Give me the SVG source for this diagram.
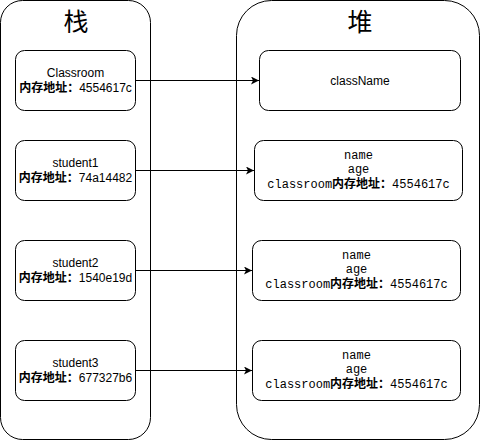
<svg xmlns="http://www.w3.org/2000/svg" width="481" height="441" viewBox="0 0 481 441">
  <style>
    .box { fill: #ffffff; stroke: #000000; stroke-width: 1; }
    .title { font-family: "Noto Sans CJK SC", sans-serif; font-size: 25px; text-anchor: middle; fill: #000; }
    .sans { font-family: "Liberation Sans", "Noto Sans CJK SC", sans-serif; font-size: 12px; text-anchor: middle; fill: #000; }
    .mono { font-family: "Liberation Mono", "Noto Sans CJK SC", monospace; font-size: 12px; text-anchor: middle; fill: #000; }
    .cjk { font-weight: bold; }
    .edge { stroke: #000000; stroke-width: 1; fill: none; marker-end: url(#arrow); }
  </style>
  <defs>
    <marker id="arrow" viewBox="0 0 10 10" refX="10" refY="5" markerWidth="8" markerHeight="8" markerUnits="userSpaceOnUse" orient="auto">
      <path d="M0,0 L10,5 L0,10 L2.5,5 Z" fill="#000"/>
    </marker>
  </defs>
  <rect width="481" height="441" fill="#ffffff"/>

  <!-- stack area -->
  <g id="stack">
    <rect class="box" x="0.5" y="0.5" width="150" height="439" rx="22" ry="22"/>
    <text class="title" x="76" y="31">栈</text>
  </g>

  <!-- heap area -->
  <g id="heap">
    <rect class="box" x="236.5" y="0.5" width="243" height="439" rx="35" ry="35"/>
    <text class="title" x="360" y="31">堆</text>
  </g>

  <!-- stack references -->
  <g id="ref-classroom">
    <rect class="box" x="15.5" y="50.5" width="120" height="60" rx="9" ry="9"/>
    <text class="sans" x="75.5" y="77">Classroom</text>
    <text class="sans" x="75.5" y="92"><tspan class="cjk">内存地址：</tspan>4554617c</text>
  </g>
  <g id="ref-student1">
    <rect class="box" x="15.5" y="140.5" width="120" height="60" rx="9" ry="9"/>
    <text class="sans" x="75.5" y="167">student1</text>
    <text class="sans" x="75.5" y="182"><tspan class="cjk">内存地址：</tspan>74a14482</text>
  </g>
  <g id="ref-student2">
    <rect class="box" x="15.5" y="240.5" width="120" height="60" rx="9" ry="9"/>
    <text class="sans" x="75.5" y="267">student2</text>
    <text class="sans" x="75.5" y="282"><tspan class="cjk">内存地址：</tspan>1540e19d</text>
  </g>
  <g id="ref-student3">
    <rect class="box" x="15.5" y="340.5" width="120" height="60" rx="9" ry="9"/>
    <text class="sans" x="75.5" y="367">student3</text>
    <text class="sans" x="75.5" y="382"><tspan class="cjk">内存地址：</tspan>677327b6</text>
  </g>

  <!-- heap objects -->
  <g id="obj-classroom">
    <rect class="box" x="259.5" y="50.5" width="201" height="60" rx="9" ry="9"/>
    <text class="sans" x="360" y="85">className</text>
  </g>
  <g id="obj-student1">
    <rect class="box" x="254.5" y="140.5" width="208" height="60" rx="9" ry="9"/>
    <text class="mono" x="358.5" y="159">name</text>
    <text class="mono" x="358.5" y="173">age</text>
    <text class="mono" x="358.5" y="187.5">classroom<tspan class="cjk">内存地址：</tspan>4554617c</text>
  </g>
  <g id="obj-student2">
    <rect class="box" x="252.5" y="240.5" width="208" height="60" rx="9" ry="9"/>
    <text class="mono" x="356.5" y="259">name</text>
    <text class="mono" x="356.5" y="273">age</text>
    <text class="mono" x="356.5" y="287.5">classroom<tspan class="cjk">内存地址：</tspan>4554617c</text>
  </g>
  <g id="obj-student3">
    <rect class="box" x="252.5" y="340.5" width="208" height="60" rx="9" ry="9"/>
    <text class="mono" x="356.5" y="359">name</text>
    <text class="mono" x="356.5" y="373">age</text>
    <text class="mono" x="356.5" y="387.5">classroom<tspan class="cjk">内存地址：</tspan>4554617c</text>
  </g>

  <!-- references from stack to heap -->
  <g id="connectors">
    <path class="edge" d="M135.5,80.5 H259"/>
    <path class="edge" d="M135.5,170.5 H254"/>
    <path class="edge" d="M135.5,270.5 H252"/>
    <path class="edge" d="M135.5,370.5 H252"/>
  </g>
</svg>
